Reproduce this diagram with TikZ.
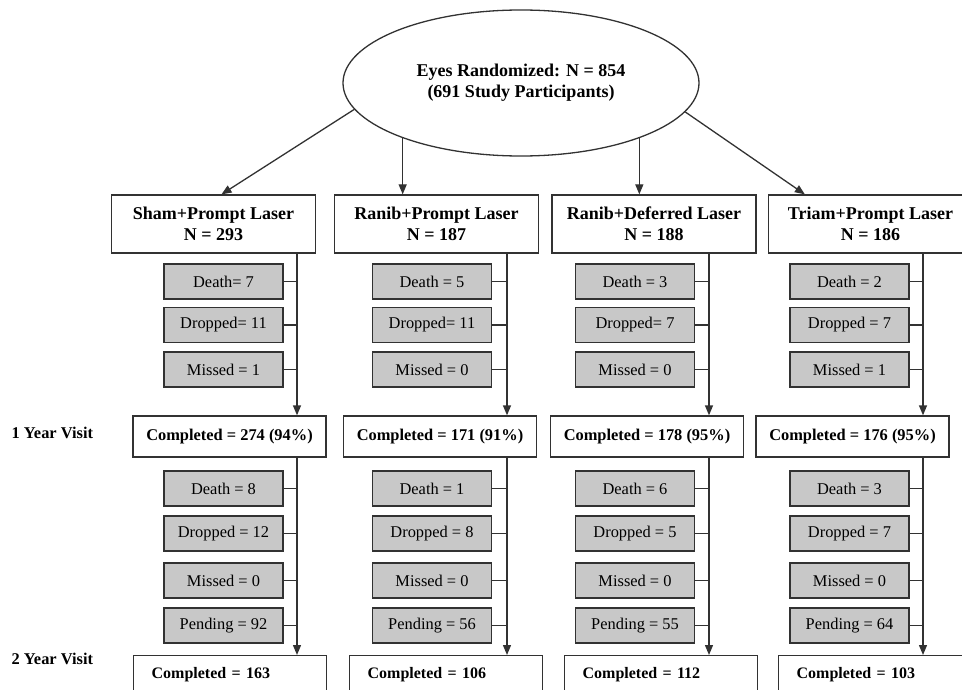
\documentclass[tikz,border=0pt]{standalone}
\usepackage{fontspec}
\setmainfont{Liberation Serif}
\usetikzlibrary{arrows.meta,shapes.geometric}
\definecolor{lostgray}{RGB}{200,200,200}
\definecolor{edgegray}{RGB}{50,50,50}
\tikzset{
  arm/.style={draw=edgegray,minimum width=204pt,minimum height=58pt,inner sep=0pt,
    align=center,font=\fontsize{18}{21}\selectfont\bfseries},
  visit/.style={draw=edgegray,minimum width=193pt,minimum height=41pt,inner sep=0pt,
    font=\fontsize{16.4}{19}\selectfont\bfseries},
  visitopen/.style={draw=edgegray,anchor=north west,text width=157pt,align=left,
    inner xsep=18pt,inner ysep=6pt,text height=16.5pt,text depth=30pt,
    font=\fontsize{16}{19}\selectfont\bfseries},
  lost/.style={draw=edgegray,fill=lostgray,minimum width=119pt,minimum height=35pt,
    inner sep=0pt,font=\fontsize{16.4}{19}\selectfont},
  tag/.style={anchor=west,inner sep=0pt,font=\fontsize{16.4}{19}\selectfont\bfseries}
}
\begin{document}
\begin{tikzpicture}[x=1pt,y=-1pt,>={Triangle[length=10pt,width=8pt]},line width=1.3pt,draw=edgegray]
  \useasboundingbox (0,0) rectangle (962,690);
  \clip (0,0) rectangle (962,690);
  \node[draw=edgegray,ellipse,minimum width=356pt,minimum height=146pt,inner sep=0pt,align=center,
    font=\fontsize{18}{21}\selectfont\bfseries] (rand) at (521,83)
    {Eyes Randomized: N = 854\\(691 Study Participants)};
  \node[tag] (year1) at (11,433) {1 Year Visit};
  \node[tag] (year2) at (11,659) {2 Year Visit};
  % arms, trunks and completed visits
  \foreach \i/\ax/\tx/\cx/\ex/\name/\done/\ddone in {
      1/213.5/297/229.5/133/{Sham+Prompt Laser\\N = 293}/{274 (94\%)}/163,
      2/436.5/507/440/349/{Ranib+Prompt Laser\\N = 187}/{171 (91\%)}/106,
      3/654/709/647/564/{Ranib+Deferred Laser\\N = 188}/{178 (95\%)}/112,
      4/870.5/923/852.5/778/{Triam+Prompt Laser\\N = 186}/{176 (95\%)}/103}
  {
    \node[arm] (a\i) at (\ax,224) {\name};
    \coordinate (t\i) at (\tx,253);
    \node[visit] (c\i) at (\cx,436.5) {Completed = \done};
    \node[visitopen] (e\i) at (\ex,655) {Completed = \ddone};
    \draw[->] (t\i) -- (t\i |- c\i.north);
    \draw[->] (t\i |- c\i.south) -- (t\i |- e\i.north);
  }
  % losses before 1 year
  \foreach \i/\gx/\p/\q/\r in {
      1/223.5/{Death= 7}/{Dropped= 11}/{Missed = 1},
      2/432/{Death = 5}/{Dropped= 11}/{Missed = 0},
      3/635/{Death = 3}/{Dropped= 7}/{Missed = 0},
      4/849.5/{Death = 2}/{Dropped = 7}/{Missed = 1}}
  {
    \node[lost] (p\i) at (\gx,281.5) {\p};
    \node[lost] (q\i) at (\gx,325) {\q};
    \node[lost] (r\i) at (\gx,369.5) {\r};
    \draw (p\i.east) -- (p\i.east -| t\i);
    \draw (q\i.east) -- (q\i.east -| t\i);
    \draw (r\i.east) -- (r\i.east -| t\i);
  }
  % losses before 2 years
  \foreach \i/\gx/\p/\q/\r/\s in {
      1/223.5/{Death = 8}/{Dropped = 12}/{Missed = 0}/{Pending = 92},
      2/432/{Death = 1}/{Dropped = 8}/{Missed = 0}/{Pending = 56},
      3/635/{Death = 6}/{Dropped = 5}/{Missed = 0}/{Pending = 55},
      4/849.5/{Death = 3}/{Dropped = 7}/{Missed = 0}/{Pending = 64}}
  {
    \node[lost] (dd\i) at (\gx,488.5) {\p};
    \node[lost] (dr\i) at (\gx,533.5) {\q};
    \node[lost] (dm\i) at (\gx,580.5) {\r};
    \node[lost] (dp\i) at (\gx,625.5) {\s};
    \draw (dd\i.east) -- (dd\i.east -| t\i);
    \draw (dr\i.east) -- (dr\i.east -| t\i);
    \draw (dm\i.east) -- (dm\i.east -| t\i);
    \draw (dp\i.east) -- (dp\i.east -| t\i);
  }
  % randomization arrows
  \draw[->] (rand.189) -- ([xshift=8pt]a1.north);
  \draw[->] (rand.205) -- (rand.205 |- a2.north);
  \draw[->] (rand.335) -- (rand.335 |- a3.north);
  \draw[->] (rand.350) -- ([xshift=37pt]a4.north west);
\end{tikzpicture}
\end{document}
